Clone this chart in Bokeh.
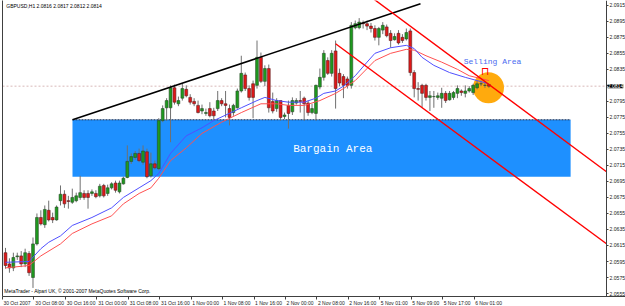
from bokeh.plotting import figure
from bokeh.models import (Range1d, FixedTicker, Label, ColumnDataSource, PrintfTickFormatter,
                          LinearAxis)
from bokeh.embed import file_html
from bokeh.resources import INLINE
from bokeh.core.properties import value

# ---------------- data (GBPUSD, H1) ----------------
header_text = "GBPUSD,H1  2.0816 2.0817 2.0812 2.0814"
footer_text = "MetaTrader - Alpari UK, \u00a9 2001-2007 MetaQuotes Software Corp."

opens = [2.0606, 2.0592, 2.0587, 2.0601, 2.0602, 2.0592, 2.0605, 2.0575, 2.0617, 2.0650,
         2.0641, 2.0659, 2.0650, 2.0647, 2.0671, 2.0679, 2.0671, 2.0669, 2.0671, 2.0675,
         2.0680, 2.0680, 2.0680, 2.0680, 2.0677, 2.0690, 2.0680, 2.0687, 2.0693, 2.0682,
         2.0692, 2.0700, 2.0720, 2.0725, 2.0730, 2.0719, 2.0732, 2.0702, 2.0717, 2.0711,
         2.0771, 2.0787, 2.0787, 2.0812, 2.0792, 2.0799, 2.0810, 2.0800, 2.0795, 2.0790,
         2.0783, 2.0780, 2.0786, 2.0783, 2.0786, 2.0796, 2.0792, 2.0786, 2.0781, 2.0787,
         2.0808, 2.0828, 2.0811, 2.0817, 2.0815, 2.0850, 2.0820, 2.0836, 2.0795, 2.0786,
         2.0796, 2.0776, 2.0790, 2.0782, 2.0793, 2.0796, 2.0799, 2.0793, 2.0781, 2.0780,
         2.0813, 2.0825, 2.0846, 2.0830, 2.0858, 2.0830, 2.0826, 2.0823, 2.0815, 2.0887,
         2.0887, 2.0893, 2.0892, 2.0889, 2.0886, 2.0875, 2.0884, 2.0888, 2.0880, 2.0872,
         2.0880, 2.0875, 2.0873, 2.0883, 2.0831, 2.0811, 2.0815, 2.0815, 2.0800, 2.0801,
         2.0800, 2.0799, 2.0805, 2.0797, 2.0800, 2.0805, 2.0808, 2.0805, 2.0808, 2.0806,
         2.0812, 2.0817, 2.0815, 2.0816]
highs = [2.0612, 2.0599, 2.0606, 2.0606, 2.0608, 2.0611, 2.0608, 2.0625, 2.0655, 2.0659,
         2.0665, 2.0671, 2.0656, 2.0665, 2.0690, 2.0684, 2.0677, 2.0686, 2.0681, 2.0702,
         2.0684, 2.0684, 2.0685, 2.0684, 2.0692, 2.0692, 2.0691, 2.0694, 2.0696, 2.0696,
         2.0701, 2.0740, 2.0730, 2.0733, 2.0736, 2.0740, 2.0736, 2.0731, 2.0721, 2.0774,
         2.0790, 2.0799, 2.0815, 2.0816, 2.0801, 2.0817, 2.0815, 2.0804, 2.0799, 2.0796,
         2.0791, 2.0786, 2.0794, 2.0787, 2.0808, 2.0799, 2.0808, 2.0791, 2.0792, 2.0811,
         2.0852, 2.0831, 2.0815, 2.0821, 2.0871, 2.0856, 2.0840, 2.0841, 2.0806, 2.0799,
         2.0796, 2.0781, 2.0796, 2.0800, 2.0799, 2.0808, 2.0801, 2.0796, 2.0792, 2.0816,
         2.0836, 2.0859, 2.0850, 2.0859, 2.0871, 2.0836, 2.0829, 2.0826, 2.0894, 2.0896,
         2.0899, 2.0896, 2.0896, 2.0893, 2.0890, 2.0888, 2.0894, 2.0891, 2.0884, 2.0880,
         2.0884, 2.0879, 2.0886, 2.0886, 2.0834, 2.0819, 2.0817, 2.0817, 2.0808, 2.0808,
         2.0806, 2.0812, 2.0808, 2.0808, 2.0808, 2.0815, 2.0810, 2.0815, 2.0814, 2.0817,
         2.0821, 2.0821, 2.0819, 2.0817]
lows = [2.0586, 2.0581, 2.0583, 2.0597, 2.0588, 2.0588, 2.0577, 2.0562, 2.0615, 2.0640,
        2.0637, 2.0645, 2.0643, 2.0646, 2.0665, 2.0662, 2.0661, 2.0667, 2.0669, 2.0672,
        2.0672, 2.0661, 2.0677, 2.0674, 2.0675, 2.0675, 2.0677, 2.0685, 2.0681, 2.0680,
        2.0691, 2.0699, 2.0717, 2.0722, 2.0719, 2.0716, 2.0699, 2.0700, 2.0710, 2.0709,
        2.0769, 2.0771, 2.0744, 2.0791, 2.0789, 2.0796, 2.0800, 2.0791, 2.0789, 2.0780,
        2.0779, 2.0777, 2.0775, 2.0771, 2.0783, 2.0789, 2.0775, 2.0765, 2.0777, 2.0786,
        2.0806, 2.0808, 2.0796, 2.0774, 2.0811, 2.0818, 2.0814, 2.0781, 2.0780, 2.0782,
        2.0771, 2.0773, 2.0761, 2.0778, 2.0791, 2.0781, 2.0771, 2.0777, 2.0779, 2.0771,
        2.0810, 2.0821, 2.0828, 2.0826, 2.0786, 2.0814, 2.0799, 2.0811, 2.0811, 2.0885,
        2.0885, 2.0886, 2.0884, 2.0881, 2.0871, 2.0865, 2.0879, 2.0875, 2.0862, 2.0871,
        2.0866, 2.0868, 2.0871, 2.0827, 2.0800, 2.0796, 2.0787, 2.0796, 2.0783, 2.0787,
        2.0797, 2.0787, 2.0793, 2.0796, 2.0797, 2.0799, 2.0802, 2.0800, 2.0806, 2.0803,
        2.0810, 2.0814, 2.0812, 2.0812]
closes = [2.0590, 2.0587, 2.0600, 2.0602, 2.0592, 2.0606, 2.0581, 2.0617, 2.0650, 2.0642,
          2.0660, 2.0647, 2.0647, 2.0663, 2.0679, 2.0667, 2.0670, 2.0675, 2.0677, 2.0681,
          2.0675, 2.0675, 2.0682, 2.0676, 2.0689, 2.0677, 2.0687, 2.0692, 2.0684, 2.0693,
          2.0699, 2.0720, 2.0726, 2.0730, 2.0721, 2.0733, 2.0701, 2.0717, 2.0712, 2.0771,
          2.0786, 2.0796, 2.0812, 2.0794, 2.0796, 2.0811, 2.0802, 2.0794, 2.0792, 2.0781,
          2.0786, 2.0781, 2.0777, 2.0777, 2.0796, 2.0792, 2.0790, 2.0775, 2.0790, 2.0808,
          2.0830, 2.0811, 2.0800, 2.0800, 2.0850, 2.0820, 2.0836, 2.0787, 2.0783, 2.0796,
          2.0775, 2.0778, 2.0780, 2.0796, 2.0796, 2.0795, 2.0792, 2.0781, 2.0786, 2.0815,
          2.0825, 2.0855, 2.0830, 2.0855, 2.0811, 2.0818, 2.0815, 2.0815, 2.0890, 2.0892,
          2.0894, 2.0892, 2.0889, 2.0886, 2.0875, 2.0886, 2.0890, 2.0877, 2.0871, 2.0876,
          2.0868, 2.0871, 2.0881, 2.0831, 2.0811, 2.0810, 2.0805, 2.0800, 2.0802, 2.0801,
          2.0802, 2.0805, 2.0796, 2.0805, 2.0806, 2.0811, 2.0806, 2.0808, 2.0811, 2.0815,
          2.0817, 2.0817, 2.0815, 2.0814]

# moving averages (bar index, price)
ma_fast_bar = [0, 6, 9, 11, 14, 17, 22, 27, 30, 34, 37, 39, 42, 46, 50, 53, 60, 64, 66, 69,
               72, 76, 79, 81, 84, 86, 89, 92, 94, 98, 102, 104, 106, 109, 113, 117, 120, 123]
ma_fast = [2.0594, 2.0595, 2.0611, 2.0619, 2.0627, 2.0640, 2.0650, 2.0662, 2.0675, 2.0687,
           2.0696, 2.0705, 2.0730, 2.0752, 2.0762, 2.0771, 2.0787, 2.0796, 2.0800, 2.0796,
           2.0794, 2.0794, 2.0799, 2.0805, 2.0808, 2.0814, 2.0827, 2.0844, 2.0855, 2.0862,
           2.0865, 2.0861, 2.0850, 2.0840, 2.0831, 2.0825, 2.0821, 2.0817]
ma_slow_bar = [0, 6, 9, 14, 17, 22, 27, 30, 34, 37, 39, 42, 46, 50, 55, 60, 65, 69, 72, 76,
               80, 84, 86, 89, 92, 94, 98, 102, 104, 107, 111, 115, 118, 123]
ma_slow = [2.0587, 2.0590, 2.0602, 2.0617, 2.0630, 2.0642, 2.0652, 2.0667, 2.0680, 2.0687,
           2.0699, 2.0721, 2.0737, 2.0755, 2.0769, 2.0781, 2.0792, 2.0792, 2.0790, 2.0790,
           2.0796, 2.0805, 2.0811, 2.0821, 2.0836, 2.0846, 2.0855, 2.0860, 2.0859, 2.0852,
           2.0844, 2.0835, 2.0827, 2.0821]

time_label_bars = [0, 8, 16, 24, 32, 40, 48, 56, 64, 72, 80, 88, 96, 104, 112, 120]
time_labels = ["30 Oct 2007", "30 Oct 08:00", "30 Oct 16:00", "31 Oct 00:00", "31 Oct 08:00",
               "31 Oct 16:00", "1 Nov 00:00", "1 Nov 08:00", "1 Nov 16:00", "2 Nov 00:00",
               "2 Nov 08:00", "2 Nov 16:00", "5 Nov 01:00", "5 Nov 09:00", "5 Nov 17:00",
               "6 Nov 01:00"]
price_ticks = [2.0555, 2.0575, 2.0595, 2.0615, 2.0635, 2.0655, 2.0675, 2.0695, 2.0715, 2.0735,
               2.0755, 2.0775, 2.0795, 2.0815, 2.0835, 2.0855, 2.0875, 2.0895, 2.0915]
last_price = 2.0814

# hand-drawn chart objects (anchors in bar index / price)
bargain_bars = [17.05, 143.8]
bargain_prices = [2.0701, 2.0772]
trend_bars = [17.05, 105.6]
trend_prices = [2.0772, 2.0917]
channel_top_bars = [92.0, 156.0]
channel_top_prices = [2.0929, 2.0696]
channel_low_bars = [84.0, 156.0]
channel_low_prices = [2.0867, 2.0606]
sell_zone_bar = 122.9
sell_zone_price = 2.0812

# ---------------- figure ----------------
PX_PER_BAR = 3.93
FRAME_W, FRAME_H = 623, 296
CHART_W = 604                      # chart area width, price scale sits to its right
x0 = -0.76
x_axis_at = x0 + CHART_W / PX_PER_BAR
y_top = 2.0921
y_bottom = y_top - FRAME_H * 0.0001249

p = figure(frame_width=FRAME_W, frame_height=FRAME_H, output_backend="svg", toolbar_location=None,
           x_range=Range1d(x0, x0 + FRAME_W / PX_PER_BAR), y_range=Range1d(y_bottom, y_top),
           y_axis_location="right", min_border_left=2, min_border_top=0,
           min_border_right=0, min_border_bottom=0)
p.grid.visible = False
p.background_fill_color = "white"
p.border_fill_color = "white"
p.outline_line_color = None

AX_FONT = "Liberation Sans"
FS_P = "5.1px"

# right price axis, pinned at the chart's right edge
ya = p.yaxis[0]
ya.fixed_location = x_axis_at
ya.ticker = FixedTicker(ticks=price_ticks)
ya.formatter = PrintfTickFormatter(format="%.4f")
ya.major_label_overrides = {2.0815: ""}
ya.major_label_text_font = AX_FONT
ya.major_label_text_font_size = FS_P
ya.major_label_text_color = "#202020"
ya.major_label_standoff = 1
ya.major_tick_out = 2
ya.major_tick_in = 0
ya.minor_tick_out = 0
ya.minor_tick_in = 0
ya.axis_line_color = "#404040"
ya.major_tick_line_color = "#404040"

# left border line
la = LinearAxis(ticker=FixedTicker(ticks=[]), axis_line_color="#404040",
                major_label_text_font_size="0px", major_tick_out=0, major_tick_in=0,
                minor_tick_out=0, minor_tick_in=0)
p.add_layout(la, "left")

# bottom time axis: tick mark at label start, text to the right of it
FS_T = 5.0
xa = p.xaxis[0]
starts = [b - 0.75 for b in time_label_bars]
centers = [s + (len(t) * 0.49 * FS_T / 2 + 1.0) / PX_PER_BAR for s, t in zip(starts, time_labels)]
xa.ticker = FixedTicker(ticks=centers, minor_ticks=starts)
xa.major_label_overrides = {c: t for c, t in zip(centers, time_labels)}
xa.major_label_text_font = AX_FONT
xa.major_label_text_font_size = "%gpx" % FS_T
xa.major_label_text_color = "#202020"
xa.major_label_standoff = 0
xa.major_tick_out = 0
xa.major_tick_in = 0
xa.minor_tick_out = 3
xa.minor_tick_in = 0
xa.minor_tick_line_color = "#404040"
xa.axis_line_color = "#404040"

# current price line (across the chart area)
p.line(x=[x0, x_axis_at], y=[last_price, last_price], line_color="#d8b8b8",
       line_dash="2 2", line_width=1)

# Bargain area box
p.quad(left=[bargain_bars[0]], right=[bargain_bars[1]], bottom=[bargain_prices[0]],
       top=[bargain_prices[1]], fill_color="#1E90FF", line_color=None)
p.line(x=bargain_bars, y=[bargain_prices[1], bargain_prices[1]], line_color="#203050",
       line_width=1, line_dash="2 1")

# selling zone circle
p.scatter(x=[sell_zone_bar], y=[sell_zone_price], size=31, marker="circle",
          fill_color="#FFA500", line_color=None, fill_alpha=0.95)

# candles
n = len(opens)
bars = list(range(n))
bull = [i for i in bars if closes[i] >= opens[i]]
bear = [i for i in bars if closes[i] < opens[i]]
p.segment(x0=bars, y0=lows, x1=bars, y1=highs, line_color="#707070", line_width=1)
src_bull = ColumnDataSource(dict(x=bull, top=[closes[i] for i in bull], bottom=[opens[i] for i in bull]))
src_bear = ColumnDataSource(dict(x=bear, top=[opens[i] for i in bear], bottom=[closes[i] for i in bear]))
p.vbar(x="x", top="top", bottom="bottom", width=0.72, source=src_bull,
       fill_color="#1E9A1E", line_color="#2a4a2a", line_width=0.6)
p.vbar(x="x", top="top", bottom="bottom", width=0.72, source=src_bear,
       fill_color="#E01818", line_color="#5a2020", line_width=0.6)

# moving averages
p.line(x=ma_slow_bar, y=ma_slow, line_color="#FF5050", line_width=1)
p.line(x=ma_fast_bar, y=ma_fast, line_color="#5050FF", line_width=1)

# trend line and channel (clipped at the price scale)
def clip_to_chart(xs, ys):
    (xa0, xa1), (ya0, ya1) = xs, ys
    if xa1 > x_axis_at:
        ya1 = ya0 + (ya1 - ya0) * (x_axis_at - xa0) / (xa1 - xa0)
        xa1 = x_axis_at
    return [xa0, xa1], [ya0, ya1]

p.line(x=trend_bars, y=trend_prices, line_color="black", line_width=1.6)
cx, cy = clip_to_chart(channel_top_bars, channel_top_prices)
p.line(x=cx, y=cy, line_color="#FF0000", line_width=1.4)
cx, cy = clip_to_chart(channel_low_bars, channel_low_prices)
p.line(x=cx, y=cy, line_color="#FF0000", line_width=1.4)

# texts
p.text(x=[73.2], y=[2.0736], text=["Bargain Area"], text_color="white",
       text_font=value("Liberation Mono"), text_font_size="11px", text_baseline="middle")
p.text(x=[116.6], y=[2.0845], text=["Selling Area"], text_color="#4A6CF0",
       text_font=value("Liberation Mono"), text_font_size="8px", text_baseline="middle")
p.text(x=[122.1], y=[2.0832], text=["\u2293"], text_color="#FF0000",
       text_font=value("DejaVu Sans"), text_font_size="11px", text_baseline="middle",
       text_align="center")
p.text(x=[0.2], y=[2.0914], text=[header_text], text_color="black",
       text_font=value(AX_FONT), text_font_size="5px", text_baseline="middle")
p.text(x=[-0.3], y=[2.05585], text=[footer_text], text_color="black",
       text_font=value(AX_FONT), text_font_size="5px", text_baseline="middle")

# last price box on the price axis
p.add_layout(Label(x=x_axis_at + 0.3, y=last_price, text="2.0814",
                   text_color="white", background_fill_color="black", text_font=AX_FONT,
                   text_font_size=FS_P, text_baseline="middle"))

open("out.html", "w").write(file_html(p, INLINE))
